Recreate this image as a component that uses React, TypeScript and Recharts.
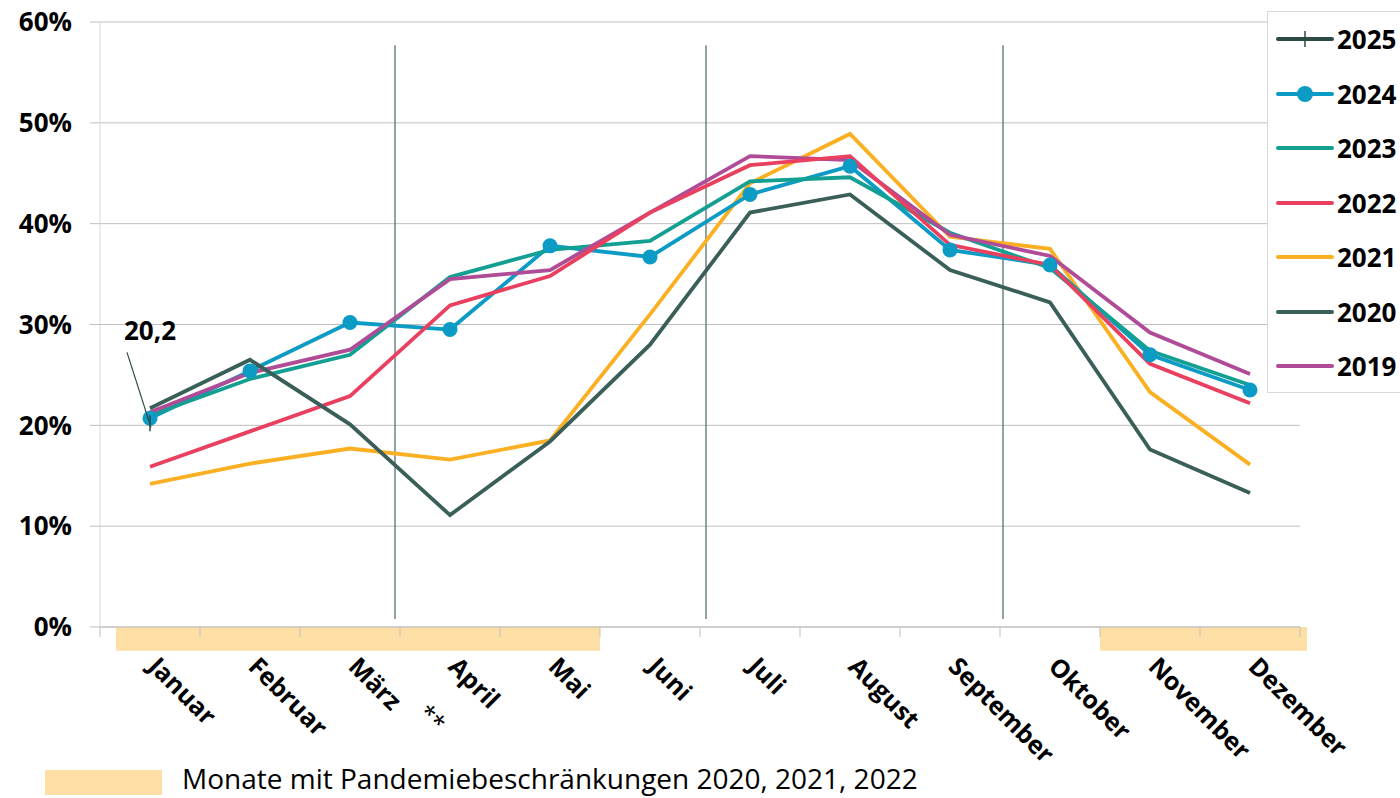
import React from 'react';
import {
  LineChart,
  Line,
  XAxis,
  YAxis,
  CartesianGrid,
  ReferenceLine,
  ReferenceArea,
  Legend,
  LabelList,
} from 'recharts';

const FONT = '"Open Sans", "Noto Sans", sans-serif';

const months = [
  'Januar', 'Februar', 'März', 'April', 'Mai', 'Juni',
  'Juli', 'August', 'September', 'Oktober', 'November', 'Dezember',
];

// Auslastung in %
const pct2025 = [20.2];
const pct2024 = [20.7, 25.4, 30.2, 29.5, 37.8, 36.7, 42.9, 45.7, 37.4, 35.9, 27.0, 23.5];
const pct2023 = [21.0, 24.6, 27.0, 34.7, 37.4, 38.3, 44.2, 44.6, 39.1, 35.6, 27.4, 24.0];
const pct2022 = [15.9, 19.4, 22.9, 31.9, 34.8, 41.1, 45.8, 46.7, 37.9, 35.9, 26.1, 22.2];
const pct2021 = [14.2, 16.2, 17.7, 16.6, 18.5, 31.0, 44.0, 48.9, 38.7, 37.5, 23.3, 16.1];
const pct2020 = [21.7, 26.5, 20.1, 11.1, 18.4, 28.0, 41.1, 42.9, 35.4, 32.2, 17.6, 13.3];
const pct2019 = [21.3, 25.2, 27.5, 34.5, 35.4, 41.1, 46.7, 46.3, 38.9, 36.8, 29.2, 25.1];

const yTicks = [0, 10, 20, 30, 40, 50, 60];

// month slots on a 0..12 scale: month i sits in the middle of [i, i+1]
const monthCenters = months.map((_, i) => i + 0.5);
const dividerPositions = [2.95, 6.06, 9.03];
const pandemicBands = [
  { from: 0.16, to: 5.0 },
  { from: 10.0, to: 12.07 },
];

const data = months.map((month, i) => ({
  month,
  pos: monthCenters[i],
  y2025: pct2025[i],
  y2024: pct2024[i],
  y2023: pct2023[i],
  y2022: pct2022[i],
  y2021: pct2021[i],
  y2020: pct2020[i],
  y2019: pct2019[i],
}));

const legendSeries = [
  { key: 'y2025', name: '2025', color: '#2E4A45', marker: 'cross' },
  { key: 'y2024', name: '2024', color: '#0B9BC5', marker: 'circle' },
  { key: 'y2023', name: '2023', color: '#13A093', marker: 'none' },
  { key: 'y2022', name: '2022', color: '#E8405E', marker: 'none' },
  { key: 'y2021', name: '2021', color: '#FBB023', marker: 'none' },
  { key: 'y2020', name: '2020', color: '#3A5F59', marker: 'none' },
  { key: 'y2019', name: '2019', color: '#B04C97', marker: 'none' },
];

const drawOrder = ['y2021', 'y2024', 'y2023', 'y2019', 'y2022', 'y2020'];
const seriesByKey = Object.fromEntries(legendSeries.map((s) => [s.key, s]));

const MonthTick = (props: any) => {
  const { x, y, payload, index } = props;
  const label = months[Math.floor(payload.value)];
  const last = index === months.length - 1;
  return (
    <g>
      <line x1={x - 50} x2={x - 50} y1={y} y2={y + 10} stroke="#bfbfbf" />
      {last && <line x1={x + 50} x2={x + 50} y1={y} y2={y + 10} stroke="#bfbfbf" />}
      <text
        transform={`translate(${x - 3},${y + 41}) rotate(45)`}
        fontFamily={FONT}
        fontWeight={700}
        fontSize={25}
        fill="#000"
      >
        {label}
        {label === 'März' && (
          <tspan dx={20} dy={-16} fontWeight={400} fontSize={24}>**</tspan>
        )}
      </text>
    </g>
  );
};

const CrossDot = (props: any) => {
  const { cx, cy } = props;
  if (cx == null || cy == null) return null;
  return <line x1={cx} x2={cx} y1={cy - 8} y2={cy + 8} stroke="#2E4A45" strokeWidth={1.5} />;
};

const ValueCallout = (props: any) => {
  const { x, y, value } = props;
  if (x == null || y == null || value == null) return null;
  return (
    <g>
      <line x1={x - 23} y1={y - 71} x2={x + 1} y2={y + 4} stroke="#2E4A45" strokeWidth={1.2} />
      <text x={x} y={y - 83} textAnchor="middle" fontFamily={FONT} fontWeight={700} fontSize={26} fill="#000">
        {String(value).replace('.', ',')}
      </text>
    </g>
  );
};

const LegendBox = () => (
  <div
    style={{
      width: 140,
      height: 382,
      boxSizing: 'border-box',
      border: '1px solid #d9d9d9',
      background: '#fff',
    }}
  >
    {legendSeries.map((s) => (
      <div key={s.name} style={{ display: 'flex', alignItems: 'center', height: 54.5 }}>
        <svg width={66} height={30} style={{ flex: 'none' }}>
          <line x1={10} x2={64} y1={15} y2={15} stroke={s.color} strokeWidth={4} strokeLinecap="round" />
          {s.marker === 'circle' && <circle cx={37} cy={15} r={8} fill={s.color} />}
          {s.marker === 'cross' && <line x1={37} x2={37} y1={7} y2={23} stroke={s.color} strokeWidth={1.5} />}
        </svg>
        <span
          style={{
            marginLeft: 3,
            fontFamily: FONT,
            fontWeight: 700,
            fontSize: 26,
            color: '#000',
            lineHeight: 1,
          }}
        >
          {s.name}
        </span>
      </div>
    ))}
  </div>
);

export default function App() {
  return (
    <div style={{ position: 'relative', width: 1400, height: 798, overflow: 'hidden', background: '#fff' }}>
      <style>{'body{margin:0}'}</style>
      <LineChart width={1400} height={798} data={data} margin={{ top: 22, right: 100, bottom: 0, left: 0 }}>
        <CartesianGrid vertical={false} stroke="#bfbfbf" />
        <XAxis
          dataKey="pos"
          type="number"
          domain={[0, 12]}
          allowDataOverflow
          ticks={monthCenters}
          height={171}
          interval={0}
          tickSize={0}
          tickMargin={0}
          axisLine={{ stroke: '#bfbfbf' }}
          tick={<MonthTick />}
        />
        <YAxis
          width={100}
          domain={[0, 60]}
          ticks={yTicks}
          tickFormatter={(v: number) => `${v}%`}
          tickSize={10}
          tickMargin={18}
          axisLine={{ stroke: '#d9d9d9' }}
          tickLine={{ stroke: '#bfbfbf' }}
          tick={{ fill: '#000', fontSize: 26, fontWeight: 700, fontFamily: FONT }}
        />
        {pandemicBands.map((b) => (
          <ReferenceArea
            key={b.from}
            x1={b.from}
            x2={b.to}
            y1={-2.35}
            y2={0}
            ifOverflow="visible"
            fill="#FDDFA5"
            fillOpacity={1}
            stroke="none"
          />
        ))}
        {dividerPositions.map((p) => (
          <ReferenceLine
            key={p}
            segment={[
              { x: p, y: 0.8 },
              { x: p, y: 57.7 },
            ]}
            stroke="#56706C"
            strokeWidth={1.3}
          />
        ))}
        {drawOrder.map((k) => {
          const s = seriesByKey[k];
          return (
            <Line
              key={k}
              type="linear"
              dataKey={k}
              name={s.name}
              stroke={s.color}
              strokeWidth={3.8}
              dot={s.marker === 'circle' ? { r: 7.5, fill: s.color, stroke: s.color, strokeWidth: 0 } : false}
              activeDot={false}
              isAnimationActive={false}
            />
          );
        })}
        <Line
          type="linear"
          dataKey="y2025"
          name="2025"
          stroke="#2E4A45"
          strokeWidth={3.8}
          dot={<CrossDot />}
          activeDot={false}
          isAnimationActive={false}
        >
          <LabelList dataKey="y2025" content={<ValueCallout />} />
        </Line>
        <Legend
          layout="horizontal"
          verticalAlign="middle"
          wrapperStyle={{ top: 11, left: 1267, width: 140, height: 382 }}
          content={<LegendBox />}
        />
      </LineChart>
      <div
        style={{
          position: 'absolute',
          left: 45,
          top: 770,
          width: 117,
          height: 25,
          background: '#FDDFA5',
        }}
      />
      <div
        style={{
          position: 'absolute',
          left: 182,
          top: 760,
          fontFamily: FONT,
          fontSize: 28,
          lineHeight: '36px',
          color: '#000',
          whiteSpace: 'nowrap',
        }}
      >
        Monate mit Pandemiebeschränkungen 2020, 2021, 2022
      </div>
    </div>
  );
}
